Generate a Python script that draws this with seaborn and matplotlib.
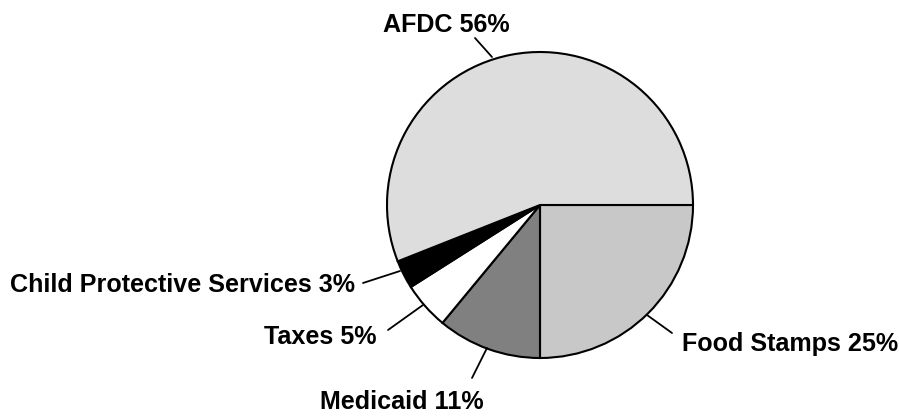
import numpy as np
import matplotlib
matplotlib.use("Agg")
import matplotlib.pyplot as plt
import seaborn as sns
from matplotlib import font_manager

# Budget shares by program
categories = ["Food Stamps", "Medicaid", "Taxes", "Child Protective Services", "AFDC"]
shares = [25, 11, 5, 3, 56]
colors = ["#c8c8c8", "#808080", "#ffffff", "#000000", "#dddddd"]

sns.set_style("white")
names = {f.name for f in font_manager.fontManager.ttflist}
family = ["Liberation Sans Narrow", "Liberation Sans", "DejaVu Sans"]
family = [f for f in family if f in names] or ["DejaVu Sans"]
plt.rcParams["font.family"] = family

W, H = 899, 416
CX, CY, R = 540, 205, 153

fig = plt.figure(figsize=(W / 100, H / 100), dpi=100)
ax = fig.add_axes([0, 0, 1, 1])

ax.pie(shares, colors=colors, startangle=0, counterclock=False, radius=1.0,
       wedgeprops=dict(edgecolor="black", linewidth=1.5))
ax.set_xlim(-CX / R, (W - CX) / R)
ax.set_ylim(-(H - CY) / R, CY / R)
ax.axis("off")


def px(x, y):
    return (x - CX) / R, (CY - y) / R


# size the labels so the longest one spans about 345 px
renderer = fig.canvas.get_renderer()
probe = fig.text(0, 0, "Child Protective Services 3%", fontsize=19, fontweight="bold")
label_size = 19 * 345 / probe.get_window_extent(renderer).width
probe.remove()

# label layout: (edge point, outer end of leader, text anchor, alignment)
layout = {
    "AFDC": ((492, 57), (475, 38), (446, 32), "center"),
    "Child Protective Services": ((400, 271), (363, 283), (355, 292), "right"),
    "Taxes": ((423, 305), (388, 330), (377, 344), "right"),
    "Medicaid": ((487, 348), (472, 378), (402, 409), "center"),
    "Food Stamps": ((647, 315), (672, 333), (682, 351), "left"),
}

for name, val in zip(categories, shares):
    p0, p1, t, ha = layout[name]
    (x0, y0), (x1, y1) = px(*p0), px(*p1)
    ax.plot([x0, x1], [y0, y1], color="black", lw=1.3)
    tx, ty = px(*t)
    ax.text(tx, ty, f"{name} {val}%", ha=ha, va="baseline",
            fontsize=label_size, fontweight="bold", color="black")

fig.savefig("out.png", dpi=100)
